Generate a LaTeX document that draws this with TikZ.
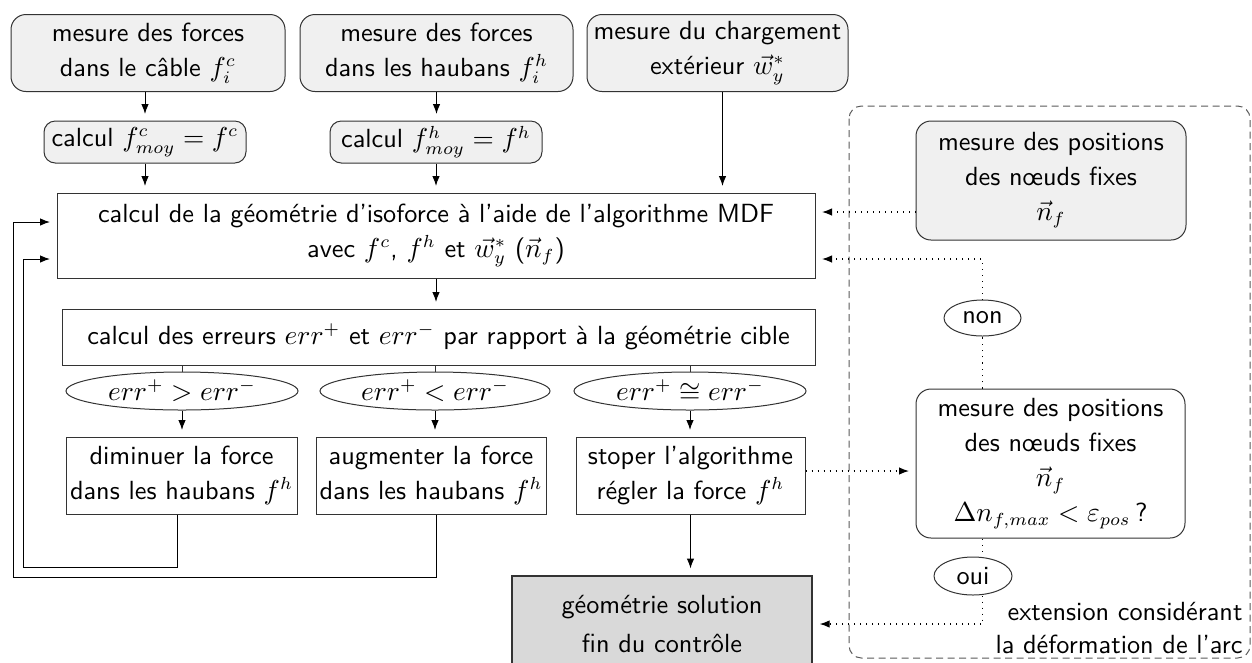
\documentclass[tikz,border=0pt]{standalone}
\usetikzlibrary{shapes.geometric,arrows.meta,calc}
\begin{document}
\begin{tikzpicture}[x=0.4pt,y=-0.4pt,
  every node/.style={font=\sffamily\fontsize{10.5}{14}\selectfont, align=center, inner sep=0pt},
  gbox/.style={draw=black!80, rounded corners=6pt, fill=black!6, line width=0.4pt},
  cbox/.style={draw=black!80, rounded corners=4.5pt, fill=black!6, line width=0.4pt},
  pbox/.style={draw=black!80, line width=0.4pt},
  ell/.style={draw=black!80, ellipse, line width=0.4pt},
  arr/.style={-{Latex[length=4pt,width=3pt]}, shorten >=2.6pt, line width=0.4pt},
  lin/.style={line width=0.4pt, draw=black!80},
  dots/.style={dotted, line width=0.5pt},
  frame/.style={draw=black!65, dash pattern=on 2.8pt off 1.8pt, rounded corners=5pt, line width=0.4pt}
]
\useasboundingbox (0,0) rectangle (1252,662);
\clip (0,0) rectangle (1252,662);

% top row
\node[gbox, minimum width=274*0.4pt, minimum height=77*0.4pt] (fc) at (148,53) {mesure des forces\\dans le câble $f_i^c$};
\node[gbox, minimum width=273*0.4pt, minimum height=77*0.4pt] (fh) at (436.5,53) {mesure des forces\\dans les haubans $f_i^h$};
\node[gbox, minimum width=261*0.4pt, minimum height=77*0.4pt] (wy) at (717.5,53) {mesure du chargement\\extérieur $\vec{w}_y^*$};

\node[cbox, minimum width=202*0.4pt, minimum height=42*0.4pt] (cfc) at (145,142) {calcul $f_{moy}^c = f^c$};
\node[cbox, minimum width=212*0.4pt, minimum height=42*0.4pt] (cfh) at (436,142) {calcul $f_{moy}^h = f^h$};

\node[pbox, minimum width=758*0.4pt, minimum height=85*0.4pt] (geo) at (436,235.5) {calcul de la géométrie d'isoforce à l'aide de l'algorithme MDF\\avec $f^c$, $f^h$ et $\vec{w}_y^*$ ($\vec{n}_f$)};

\node[pbox, minimum width=753*0.4pt, minimum height=56*0.4pt] (err) at (438.5,337) {calcul des erreurs $err^+$ et $err^-$ par rapport à la géométrie cible};

\node[ell, minimum width=232*0.4pt, minimum height=38*0.4pt] (e1) at (182,391) {$err^+ > err^-$};
\node[ell, minimum width=230*0.4pt, minimum height=38*0.4pt] (e2) at (435,391) {$err^+ < err^-$};
\node[ell, minimum width=232*0.4pt, minimum height=38*0.4pt] (e3) at (690,391) {$err^+ \cong err^-$};

\node[pbox, minimum width=231*0.4pt, minimum height=77*0.4pt] (b1) at (181.5,475.5) {diminuer la force\\dans les haubans $f^h$};
\node[pbox, minimum width=230*0.4pt, minimum height=77*0.4pt] (b2) at (431,475.5) {augmenter la force\\dans les haubans $f^h$};
\node[pbox, minimum width=229*0.4pt, minimum height=77*0.4pt] (b3) at (690.5,475.5) {stoper l'algorithme\\régler la force $f^h$};

\node[pbox, fill=black!15, line width=0.9pt, minimum width=300*0.4pt, minimum height=95*0.4pt, anchor=north] (sol) at (662,575) {géométrie solution\\[1.6pt]fin du contrôle};

% right region
\draw[frame] (849,106) rectangle (1250,658);
\node[gbox, minimum width=270*0.4pt, minimum height=119*0.4pt] (pos1) at (1051,180.5) {mesure des positions\\des nœuds fixes\\$\vec{n}_f$};
\node[gbox, fill=white, minimum width=269*0.4pt, minimum height=149*0.4pt] (pos2) at (1050.5,463.5) {mesure des positions\\des nœuds fixes\\$\vec{n}_f$\\$\Delta n_{f,max} < \varepsilon_{pos}$\,?};
\node[ell, minimum width=77*0.4pt, minimum height=36*0.4pt] (non) at (982.5,318) {non};
\node[ell, minimum width=78*0.4pt, minimum height=38*0.4pt] (oui) at (973,576) {oui};
\node[anchor=east, align=right, font=\sffamily\fontsize{10.5}{13.4}\selectfont] (ext) at (1243,628) {extension considérant\\la déformation de l'arc};

% connectors
\draw[arr] (fc.south -| cfc.north) -- (cfc.north);
\draw[arr] (cfc.south) -- (cfc.south |- geo.north);
\draw[arr] (fh.south) -- (fh.south |- cfh.north);
\draw[arr] (cfh.south) -- (cfh.south |- geo.north);
\draw[arr] ($(wy.south)+(5,0)$) -- ($(wy.south |- geo.north)+(5,0)$);
\draw[arr] (geo.south) -- (geo.south |- err.north);
\draw[lin] (err.south -| e1.north) -- (e1.north);
\draw[lin] (err.south -| e2.north) -- (e2.north);
\draw[lin] (err.south -| e3.north) -- (e3.north);
\draw[arr] (e1.south) -- (e1.south |- b1.north);
\draw[arr] (e2.south) -- (e2.south |- b2.north);
\draw[arr] (e3.south) -- (e3.south |- b3.north);
\draw[arr] (b3.south) -- (b3.south |- sol.north);
\draw[arr] ($(b1.south)+(-4,0)$) -- (177.5,567) -- (23,567) -- (23,259) -- (geo.west |- 0,259);
\draw[arr] ($(b2.south)+(5,0)$) -- (436,577) -- (13,577) -- (13,222) -- (geo.west |- 0,222);

\draw[arr,dots] (pos1.west |- 0,212) -- (geo.east |- 0,212);
\draw[dots] (pos2.north -| non.south) -- (non.south);
\draw[arr,dots] (non.north) -- (non.north |- 0,259) -- (geo.east |- 0,259);
\draw[dots] (pos2.south -| non.south) -- (oui.north -| non.south);
\draw[arr,dots] (oui.south -| non.south) -- (non.south |- 0,624) -- (sol.east |- 0,624);
\draw[arr,dots] (b3.east |- 0,471) -- (pos2.west |- 0,471);
\end{tikzpicture}
\end{document}
